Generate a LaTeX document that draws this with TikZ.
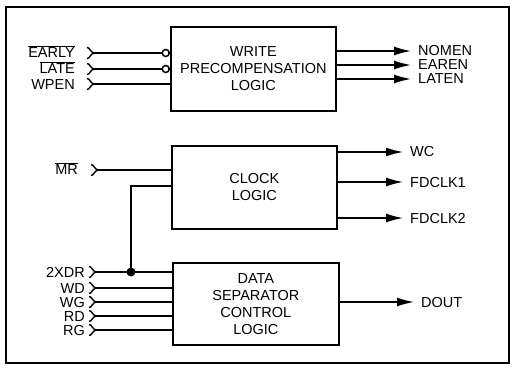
\documentclass[tikz,border=0pt]{standalone}
\usepackage{fontspec}
\setmainfont{Liberation Sans}
\usetikzlibrary{arrows.meta,positioning,calc}

\tikzset{
  block/.style={draw,line width=1.7pt,minimum width=166pt,align=center,inner sep=0pt},
  sig/.style={line width=1.5pt},
  outsig/.style={sig,-{Latex[length=17pt,width=9pt]},shorten >=7pt},
  negsig/.style={sig,-{Circle[open,length=8.5pt,width=8.5pt,line width=1.5pt]}},
  inlabel/.style={anchor=base east,inner sep=0pt},
  outlabel/.style={anchor=base west,inner sep=0pt},
}
% input receptacle
\newcommand{\chev}[1]{\draw[line width=1.4pt,line join=round] ($(#1)+(-7,-5.5)$) .. controls ($(#1)+(-4,-5.5)$) and ($(#1)+(-4,-1)$) .. (#1) .. controls ($(#1)+(-4,1)$) and ($(#1)+(-4,5.5)$) .. ($(#1)+(-7,5.5)$);}

\begin{document}
\begin{tikzpicture}[x=1pt,y=-1pt,font=\fontsize{14.5}{17}\selectfont]
\useasboundingbox (0,0) rectangle (512,369);
\draw[line width=1.3pt] (6,7) rectangle (509,363);

% blocks
\node[block,minimum width=165pt,minimum height=84pt,anchor=north west] (write) at (170,26) {WRITE\\PRECOMPENSATION\\LOGIC};
\node[block,minimum width=165pt,minimum height=83pt,anchor=north west] (clock) at (171,145) {CLOCK\\LOGIC};
\node[block,minimum width=166pt,minimum height=82pt,anchor=north west] (dsep) at (172,262) {DATA\\SEPARATOR\\CONTROL\\LOGIC};

% write precompensation inputs
\foreach \nm/\txt/\y in {early/EARLY/53,late/LATE/69}{
  \node[inlabel] (\nm) at (75,\y+5) {$\overline{\hbox{\txt}}$};
  \coordinate (\nm c) at (94,\y);
  \chev{\nm c}
  \draw[negsig] (\nm c) -- (\nm c -| write.west);}
\node[inlabel] (wpen) at (75,89) {WPEN};
\coordinate (wpenc) at (94,84);
\chev{wpenc}
\draw[sig] (wpenc) -- (wpenc -| write.west);

% write precompensation outputs
\foreach \nm/\txt/\y in {nomen/NOMEN/51,earen/EAREN/65,laten/LATEN/79}{
  \node[outlabel] (\nm) at (418,\y+5) {\txt};
  \draw[outsig] (write.east |- 0,\y) -- (\nm.west |- 0,\y);}

% clock logic
\node[inlabel] (mr) at (78,175) {$\overline{\hbox{MR}}$};
\coordinate (mrc) at (98,170);
\chev{mrc}
\draw[sig] (mrc) -- (mrc -| clock.west);
\foreach \nm/\txt/\y in {wc/WC/152,fdclka/FDCLK1/182,fdclkb/FDCLK2/218}{
  \node[outlabel] (\nm) at (410,\y+5) {\txt};
  \draw[outsig] (clock.east |- 0,\y) -- (\nm.west |- 0,\y);}

% data separator inputs
\foreach \nm/\txt/\y in {xdr/2XDR/272,wd/WD/288,wg/WG/302,rd/RD/316,rg/RG/330}{
  \node[inlabel] (\nm) at (85,\y+5) {\txt};
  \coordinate (\nm c) at (96,\y);
  \chev{\nm c}
  \draw[sig] (\nm c) -- (\nm c -| dsep.west);}
\coordinate (tap) at (131,272);
\fill (tap) circle (4.5pt);
\draw[sig] (tap) -- (tap |- 0,186) -- (clock.west |- 0,186);

% data output
\node[outlabel] (dout) at (421,307) {DOUT};
\draw[outsig] (dsep.east |- 0,302) -- (dout.west |- 0,302);
\end{tikzpicture}
\end{document}
